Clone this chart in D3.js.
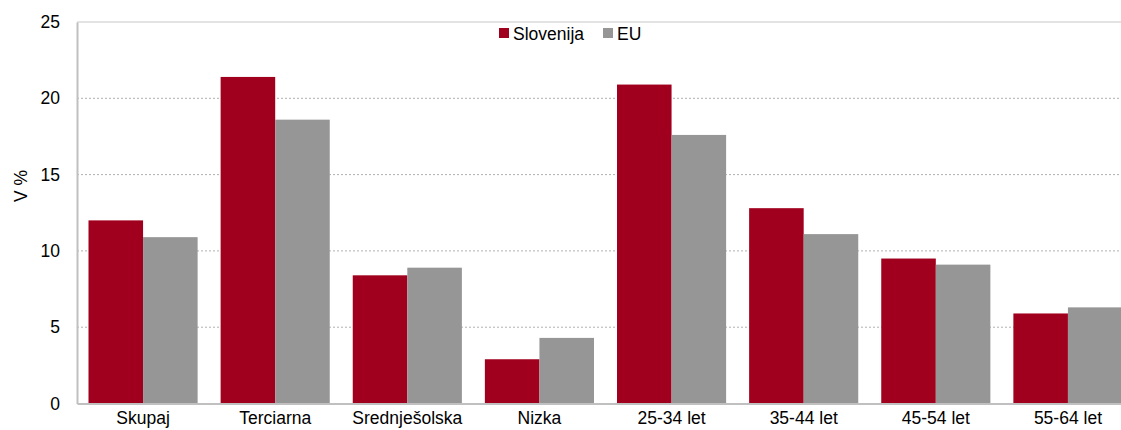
<!DOCTYPE html>
<html>
<head>
<meta charset="utf-8">
<script src="https://cdn.jsdelivr.net/npm/d3@7"></script>
<style>
  body { margin: 0; background: #fff; overflow: hidden; }
  svg { font-family: "Liberation Sans", Arial, sans-serif; }
</style>
</head>
<body>
<svg width="1121" height="430"></svg>
<script>
const categories = ["Skupaj", "Terciarna", "Srednješolska", "Nizka", "25-34 let", "35-44 let", "45-54 let", "55-64 let"];
const seriesNames = ["Slovenija", "EU"];
const slovenija = [12.0, 21.4, 8.4, 2.9, 20.9, 12.8, 9.5, 5.9];
const eu = [10.9, 18.6, 8.9, 4.3, 17.6, 11.1, 9.1, 6.3];
const yTicks = [0, 5, 10, 15, 20, 25];
const colors = ["#a0001e", "#969696"];

const svg = d3.select("svg");
const plotL = 77, plotR = 1134, plotT = 22, plotB = 403.5;
const fs = 17.5;

const x0 = d3.scaleBand().domain(categories).range([plotL, plotR]).padding(0);
const x1 = d3.scaleBand().domain(seriesNames).range([11.5, x0.bandwidth() - 11.5]).padding(0);
const y = d3.scaleLinear().domain([0, 25]).range([plotB, plotT]);

// gridlines
svg.append("g")
  .selectAll("line")
  .data(yTicks.filter(t => t > 0 && t < 25))
  .join("line")
  .attr("x1", plotL).attr("x2", plotR)
  .attr("y1", d => y(d)).attr("y2", d => y(d))
  .attr("stroke", "#b0b0b0")
  .attr("stroke-width", 1)
  .attr("stroke-dasharray", "2,2");

// top border
svg.append("line")
  .attr("x1", plotL).attr("x2", plotR)
  .attr("y1", y(25)).attr("y2", y(25))
  .attr("stroke", "#c8c8c8").attr("stroke-width", 1.2);

// bars
const rows = categories.map((c, i) => ({ cat: c, vals: [slovenija[i], eu[i]] }));
svg.append("g")
  .selectAll("g")
  .data(rows)
  .join("g")
  .attr("transform", d => `translate(${x0(d.cat)},0)`)
  .selectAll("rect")
  .data(d => d.vals.map((v, j) => ({ key: seriesNames[j], v: v, j: j })))
  .join("rect")
  .attr("x", d => x1(d.key))
  .attr("width", x1.bandwidth())
  .attr("y", d => y(d.v))
  .attr("height", d => y(0) - y(d.v))
  .attr("fill", d => colors[d.j]);

// y axis
const yAxis = svg.append("g")
  .attr("transform", `translate(${plotL},0)`)
  .call(d3.axisLeft(y).tickValues(yTicks).tickSize(0).tickPadding(17));
yAxis.select(".domain").attr("stroke", "#c0c0c0").attr("stroke-width", 2);
yAxis.selectAll("text").attr("font-size", fs).attr("fill", "#000");

// x axis
const xAxis = svg.append("g")
  .attr("transform", `translate(0,${plotB})`)
  .call(d3.axisBottom(x0).tickSize(0).tickPadding(8));
xAxis.select(".domain").attr("stroke", "#c0c0c0").attr("stroke-width", 2);
xAxis.selectAll("text").attr("font-size", fs).attr("fill", "#000");

// y title
svg.append("text")
  .attr("transform", "translate(27,186) rotate(-90)")
  .attr("text-anchor", "middle")
  .attr("font-size", fs)
  .text("V %");

// legend
const legendX = [499, 603];
const legend = svg.append("g");
seriesNames.forEach((s, i) => {
  legend.append("rect")
    .attr("x", legendX[i]).attr("y", 28)
    .attr("width", 10).attr("height", 10)
    .attr("fill", colors[i]);
  legend.append("text")
    .attr("x", legendX[i] + 14).attr("y", 39.5)
    .attr("font-size", fs)
    .text(s);
});
</script>
</body>
</html>
